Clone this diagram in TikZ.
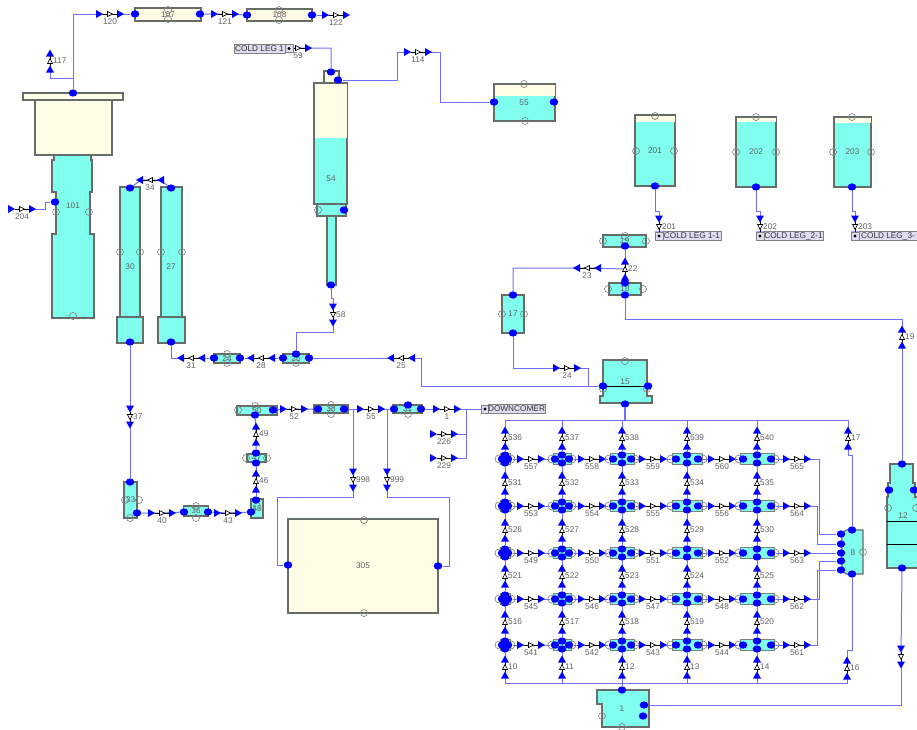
\documentclass[tikz,border=0pt]{standalone}
\usepackage{fontspec}
\setmainfont{Liberation Sans}
\usepackage{xcolor}
\usepackage{tikz}
\usetikzlibrary{shapes.geometric, positioning, backgrounds}

\definecolor{aqua}{HTML}{80FFEE}
\definecolor{cream}{HTML}{FFFDE6}
\definecolor{wall}{HTML}{666C66}
\definecolor{line}{HTML}{6E6EFF}
\definecolor{legfill}{HTML}{DEDEF0}

% valve: tips and bow tie, drawn at x, y, turned by an angle, half length
\newcommand{\valvebody}[4]{
  \begin{scope}[shift={(#1,#2)}, rotate=#3]
    \fill[blue] (-#4-3.5,-4) -- (-#4+3.5,0) -- (-#4-3.5,4) -- cycle;
    \fill[blue] (#4-3.5,-4) -- (#4+3.5,0) -- (#4-3.5,4) -- cycle;
    \draw[black, line width=0.7pt] (-#4+3,0) -- (#4-3,0);
    \draw[black, fill=white, line width=0.5pt] (-2.5,-2.5) -- (2.5,0) -- (-2.5,2.5) -- cycle;
  \end{scope}
}
\newcommand{\hvalve}[4]{
  \node[tap] (v#1) at (#2,#3) {};
  \valvebody{#2}{#3}{#4}{10.5}
  \node[tag, below=3pt of v#1] (t#1) {#1};
}
\newcommand{\vvalve}[4]{
  \node[tap] (v#1) at (#2,#3) {};
  \valvebody{#2}{#3}{#4}{8}
  \node[tag, right=2pt of v#1] (t#1) {#1};
}

\begin{document}
\begin{tikzpicture}[
  x=0.75pt, y=-0.75pt,
  tag/.style={font=\fontsize{6.2}{6.5}\selectfont, text=black!62, inner sep=0pt},
  tap/.style={inner sep=0pt, minimum size=0pt},
  port/.style={ellipse, fill=blue, inner sep=0pt, minimum width=6.5pt, minimum height=5.5pt},
  pipe/.style={draw=line, line width=0.75pt},
  ring/.style={draw=gray, line width=0.5pt},
  tank/.style={draw=wall, fill=aqua, line width=0.9pt},
  vol/.style 2 args={tank, tag, minimum width=#1*0.75pt, minimum height=#2*0.75pt},
  band/.style 2 args={fill=cream, inner sep=0pt, minimum width=#1*0.75pt, minimum height=#2*0.75pt},
  legbox/.style={draw=gray, fill=legfill, tag, text=black!80, minimum width=#1*0.75pt, minimum height=6.75pt},
  legdot/.style={draw=gray, fill=legfill, inner sep=0pt, minimum size=6pt,
    path picture={\fill[black] (path picture bounding box.center) circle (1.2pt);}}
]
\useasboundingbox (0,0) rectangle (917,729);

% valves, top and left
\hvalve{120}{110}{14}{0}
\hvalve{121}{225}{14}{0}
\hvalve{122}{336}{15}{0}
\hvalve{204}{22}{209}{0}
\vvalve{117}{50}{61}{90}
\hvalve{34}{150}{180}{180}
\hvalve{59}{298}{48}{0}
\hvalve{114}{418}{52}{0}
\vvalve{58}{333}{315}{270}
\hvalve{31}{191}{358}{180}
\hvalve{28}{261}{358}{180}
\hvalve{25}{401}{358}{180}
\vvalve{37}{130}{417}{270}
\hvalve{40}{162}{513}{0}
\hvalve{43}{228}{513}{0}
\vvalve{46}{256}{481}{90}
\vvalve{49}{256}{434}{90}
\hvalve{52}{294}{409}{0}
\hvalve{55}{371}{409}{0}
\hvalve{1}{447}{409}{0}
\hvalve{226}{444}{434}{0}
\hvalve{229}{444}{458}{0}
\vvalve{998}{353}{480}{270}
\vvalve{999}{387}{480}{270}

% valves, right
\vvalve{201}{659}{227}{270}
\vvalve{202}{760}{227}{270}
\vvalve{203}{855}{227}{270}
\vvalve{22}{625}{269}{90}
\hvalve{23}{587}{268}{180}
\hvalve{24}{567}{368}{0}
\vvalve{19}{902}{337}{90}
\vvalve{17}{848}{438}{90}
\vvalve{16}{847}{668}{90}
\vvalve{}{901}{657}{270}

% valves of the grid
\foreach \yy/\aa/\bb/\cc/\dd/\ee in {459/557/558/559/560/565, 506/553/554/555/556/564,
    553/549/550/551/552/563, 599/545/546/547/548/562, 645/541/542/543/544/561}{
  \hvalve{\aa}{531}{\yy}{0}
  \hvalve{\bb}{592}{\yy}{0}
  \hvalve{\cc}{653}{\yy}{0}
  \hvalve{\dd}{722}{\yy}{0}
  \hvalve{\ee}{797}{\yy}{0}
}
\foreach \xx/\aa/\bb/\cc/\dd/\ee/\ff in {505/536/531/526/521/516/10, 562/537/532/527/522/517/11,
    622/538/533/528/523/518/12, 687/539/534/529/524/519/13, 757/540/535/530/525/520/14}{
  \vvalve{\aa}{\xx}{438}{90}
  \vvalve{\bb}{\xx}{483}{90}
  \vvalve{\cc}{\xx}{530}{90}
  \vvalve{\dd}{\xx}{576}{90}
  \vvalve{\ee}{\xx}{622}{90}
  \vvalve{\ff}{\xx}{667}{90}
}

% left tanks
\node[vol={100}{7}, fill=cream] (vol101a) at (73,96.5) {};
\node[vol={77}{55}, fill=cream] (vol101b) at (73.5,127.5) {};
\draw[tank] (54,155) -- (54,160) -- (52,160) -- (52,192) -- (56,192) -- (56,234) -- (52,234) -- (52,318)
  -- (94,318) -- (94,234) -- (90,234) -- (90,192) -- (92,192) -- (92,160) -- (91,160) -- (91,155) -- cycle;
\node[tag] (lab101) at (73,206) {101};
\node[vol={66}{13}, fill=cream] (vol107) at (168,14.5) {107};
\node[vol={65}{12}, fill=cream] (vol108) at (279.5,15) {108};
\node[vol={20}{130}] (vol30) at (130,252) {};
\node[tag] (lab30) at (130,267) {30};
\node[vol={26}{26}] (vol30b) at (130,330) {};
\node[vol={21}{130}] (vol27) at (171.5,252) {};
\node[tag] (lab27) at (171,267) {27};
\node[vol={27}{26}] (vol27b) at (171.5,330) {};

% tank 54 and 55
\node[vol={15}{12}, fill=cream] (vol54a) at (331.5,77) {};
\node[vol={33}{121}] (vol54c) at (330.5,143.5) {};
\node[band={32}{54.5}] (vol54b) at (330.5,110.75) {};
\node[tag] (lab54) at (331,179) {54};
\node[vol={29}{12}] (vol54d) at (331.5,210) {};
\node[vol={9}{69}] (vol54e) at (331.5,250.5) {};
\node[vol={61}{37}] (vol55) at (524.5,102.5) {};
\node[band={60}{11.5}] (vol55a) at (524.5,90.25) {};
\node[tag] (lab55) at (524,103) {55};

% lower left tanks
\node[vol={26}{9}] (vol24) at (227,358.5) {24};
\node[vol={26}{9}] (vol26) at (296,358.5) {25};
\node[vol={13}{36}] (vol33) at (130.5,500) {33};
\node[vol={25}{10}] (vol36) at (196,511) {36};
\node[vol={12}{19}] (vol45) at (257,508.5) {45};
\node[vol={19}{8}] (vol47) at (256.5,458) {47};
\node[vol={40}{9}] (vol50) at (257,410.5) {50};
\node[vol={34}{8}] (vol38) at (331,409) {38};
\node[vol={29}{8}] (vol31) at (407.5,409) {31};
\node[vol={150}{94}, fill=cream] (vol305) at (363,566) {305};

% right tanks
\node[vol={40}{71}] (vol201) at (655,150.5) {201};
\node[band={39}{6.5}] (vol201a) at (655,118.75) {};
\node[vol={40}{70}] (vol202) at (756,152) {202};
\node[band={39}{4.5}] (vol202a) at (756,119.75) {};
\node[vol={37}{70}] (vol203) at (852.5,152) {203};
\node[band={36}{5.5}] (vol203a) at (852.5,120.25) {};
\node[vol={43}{12}] (vol19) at (624.5,241) {19};
\node[vol={32}{12}] (vol18) at (625,289) {18};
\node[vol={22}{38}] (vol17) at (513,314) {17};
\draw[tank] (603,360) -- (647,360) -- (647,396) -- (652,396) -- (652,403) -- (600,403) -- (600,396) -- (603,396) -- cycle;
\draw[black, line width=0.7pt] (603,386) -- (647,386);
\node[tag] (lab15) at (625,382) {15};
\draw[tank] (597,690) -- (649,690) -- (649,727) -- (602,727) -- (602,704) -- (597,704) -- cycle;
\node[tag] (lab1) at (622,709) {1};
\draw[tank] (846,530) -- (863,530) -- (863,574) -- (846,574) -- (842,570) -- (842,534) -- cycle;
\node[tag] (lab8) at (853,553) {8};
\draw[tank] (890,464) -- (913,464) -- (913,483) -- (915,483) -- (915,497) -- (919,497) -- (919,568)
  -- (887,568) -- (887,497) -- (888,497) -- (888,483) -- (890,483) -- cycle;
\draw[black, line width=0.7pt] (887,521) -- (919,521);
\draw[black, line width=0.7pt] (887,544) -- (919,544);
\node[tag] (lab12) at (903,516) {12};

% boundary boxes
\node[legbox=51] (cl1) at (259.5,48.5) {COLD LEG 1};
\node[legdot] (s59) at (289,48.5) {};
\node[legdot] (s201) at (659,236) {};
\node[legbox=58] (cl11) at (692,236) {COLD LEG 1-1};
\node[legdot] (s202) at (760,236) {};
\node[legbox=59] (cl21) at (793.5,236) {COLD LEG\_2-1};
\node[legdot] (s203) at (855,236) {};
\node[legbox=58] (cl31) at (888,236) {COLD LEG\_3-};
\node[legdot] (sdc) at (485,409) {};
\node[legbox=53] (cldc) at (516.5,409) {DOWNCOMER};

% rings
\foreach \xx/\yy in {56/212, 89/212, 73/316, 168/10, 168/19, 279/10, 279/20, 120/252, 140/252, 161/252, 182/252,
    318/210, 524/84, 525/121, 655/116, 636/151, 674/151, 756/117, 736/152, 776/152, 852/117, 833/152, 871/152,
    603/241, 646/241, 625/236, 608/289, 643/289, 502/314, 524/314, 625/361, 603/389, 647/389, 602/716, 622/727,
    863/552, 888/508, 916/508, 227/354, 227/363, 296/363, 125/500, 139/500, 130/518, 196/506, 196/518, 257/506,
    246/458, 267/458, 238/410, 255/406, 331/405, 331/414, 408/414, 364/520, 364/613}
  \draw[ring] (\xx,\yy) circle[radius=3.5];

% grid tanks
\foreach \c/\cx/\hw/\dx in {a/505/5/3, b/562/9/7, c/622/12/9, d/687/15/11, e/757/17/14}{
  \foreach \r/\cy in {1/459, 2/506, 3/553, 4/599, 5/645}{
    \node[vol={2*\hw}{11}, draw=wall!85, line width=0.7pt] (g\c\r) at (\cx,\cy) {};
    \draw[ring] ({\cx-\hw-1},\cy) circle[radius=4];
    \draw[ring] ({\cx+\hw+1},\cy) circle[radius=4];
    \node[port] (n\c\r) at (\cx,\cy-4) {};
    \node[port] (s\c\r) at (\cx,\cy+4) {};
    \node[port] (w\c\r) at (\cx-\dx,\cy) {};
    \node[port] (e\c\r) at (\cx+\dx,\cy) {};
  }
}

% ports
\foreach \nm/\xx/\yy in {p101t/73/93, p101w/55/202, p107w/135/14, p107e/200/14, p108w/247/15, p108e/312/15,
    p30t/130/188, p30b/130/342, p27t/171/188, p27b/171/342, p54t/331/72, p54e/338/80, p54r/344/210, p54b/331/285,
    p55w/494/102, p55e/554/102, p201b/655/186, p202b/756/187, p203b/852/187, p19s/625/246, p18n/625/283, p18s/625/295,
    p17t/513/295, p17b/513/333, p15w/603/386, p15e/648/386, p15b/625/404, p24w/214/358, p24e/240/358, p26w/283/358,
    p26e/309/358, p26t/296/354, p33t/130/482, p33e/137/513, p36w/184/512, p36e/208/512, p45w/251/512, p45t/256/500,
    p47s/256/463, p47n/256/453, p50s/255/415, p50e/273/410, p38w/318/409, p38e/344/409, p31w/394/409, p31e/421/409,
    p31t/408/405, p305w/288/565, p305e/438/566, p8t/852/530, p8b/852/574, p8a/841/534, p8c/841/544, p8d/841/553,
    p8e/841/561, p8f/841/570, p1t/622/690, p1e/644/705, p1r/643/716, p12t/902/464, p12w/889/490, p12e/914/490, p12b/902/568}
  \node[port] (\nm) at (\xx,\yy) {};

% joints on the lines
\coordinate (j117) at (73,78);
\coordinate (jdc) at (466,409);
\coordinate (j998) at (353,409);
\coordinate (j999) at (387,409);
\coordinate (j15) at (625,420);
\coordinate (j24) at (588,386);
\coordinate (hdrL) at (505,420);
\coordinate (hdrR) at (848,420);
\coordinate (botL) at (505,683);
\coordinate (botR) at (847,683);
\coordinate (j1) at (622,683);

\begin{scope}[on background layer]
\draw[pipe] (p101t) |- (v120);
\draw[pipe] (v117) |- (j117);
\draw[pipe] (v120) -- (p107w);
\draw[pipe] (p107e) -- (v121) -- (p108w);
\draw[pipe] (p108e) -- (v122);
\draw[pipe] (v204) -- ++(23,0) |- (p101w);
\draw[pipe] (p30t) -- ++(11,-8) -- (v34) -- ++(10,0) -- (p27t);
\draw[pipe] (s59) -- (v59) -| (p54t);
\draw[pipe] (p54e) -- ++(59,0) |- (v114);
\draw[pipe] (v114) -- ++(22,0) |- (p55w);
\draw[pipe] (p54b) -- ++(0,13) -| (v58);
\draw[pipe] (v58) -- ++(0,17) -| (p26t);
\draw[pipe] (p26e) -- (v25);
\draw[pipe] (v25) -- ++(20,0) |- (p15w);
\draw[pipe] (p26w) -- (v28) -- (p24e);
\draw[pipe] (p24w) -- (v31) -| (p27b);
\draw[pipe] (p30b) -- (v37) -- (p33t);
\draw[pipe] (p33e) -- (v40) -- (p36w);
\draw[pipe] (p36e) -- (v43) -- (p45w);
\draw[pipe] (p45t) -- (v46) -- (p47s);
\draw[pipe] (p47n) -- (v49) -- (p50s);
\draw[pipe] (p50e) -- (v52) -- (p38w);
\draw[pipe] (p38e) -- (v55) -- (p31w);
\draw[pipe] (p31e) -- (v1) -- (sdc);
\draw[pipe] (v226) -| (jdc);
\draw[pipe] (v229) -| (jdc);
\draw[pipe] (j998) -- (v998);
\draw[pipe] (j999) -- (v999);
\draw[pipe] (v998) -- ++(0,17) -- ++(-76,0) |- (p305w);
\draw[pipe] (v999) -- ++(0,17) -- ++(62,0) |- (p305e);
\draw[pipe] (p201b) -- ++(0,25) -| (v201);
\draw[pipe] (p202b) -- ++(0,24) -| (v202);
\draw[pipe] (p203b) -- ++(0,24) -| (v203);
\draw[pipe] (v201) -- (s201);
\draw[pipe] (v202) -- (s202);
\draw[pipe] (v203) -- (s203);
\draw[pipe] (p18n) -- (v22) -- (p19s);
\draw[pipe] (v22) -- (v23) -| (p17t);
\draw[pipe] (p17b) |- (v24);
\draw[pipe] (v24) -| (j24);
\draw[pipe] (v19) -- ++(0,-18) -| (p18s);
\draw[pipe] (p12t) -- (v19);
\draw[pipe] (p12b) -- (v);
\draw[pipe] (v) |- (p1e);
\draw[pipe, line width=1.6pt] (p15b) -- (j15);
\draw[pipe] (hdrL) -- (hdrR) -- (v17);
\draw[pipe] (botL) -- (botR) -- (v16);
\draw[pipe] (p1t) -- (j1);
\draw[pipe] (v17) -- ++(0,17) -| (p8t);
\draw[pipe] (v16) -- ++(0,-18) -| (p8b);
\draw[pipe] (v565) -- ++(22,0) |- (p8a);
\draw[pipe] (v564) -- ++(20,0) |- (p8c);
\draw[pipe] (v563) -- (p8d);
\draw[pipe] (v562) -- ++(22,0) |- (p8e);
\draw[pipe] (v561) -- ++(20,0) |- (p8f);
\foreach \r/\aa/\bb/\cc/\dd/\ee in {1/557/558/559/560/565, 2/553/554/555/556/564,
    3/549/550/551/552/563, 4/545/546/547/548/562, 5/541/542/543/544/561}{
  \draw[pipe] (ea\r) -- (v\aa) -- (wb\r);
  \draw[pipe] (eb\r) -- (v\bb) -- (wc\r);
  \draw[pipe] (ec\r) -- (v\cc) -- (wd\r);
  \draw[pipe] (ed\r) -- (v\dd) -- (we\r);
  \draw[pipe] (ee\r) -- (v\ee);
}
\foreach \c/\aa/\bb/\cc/\dd/\ee/\ff in {a/536/531/526/521/516/10, b/537/532/527/522/517/11,
    c/538/533/528/523/518/12, d/539/534/529/524/519/13, e/540/535/530/525/520/14}{
  \draw[pipe] (v\aa) |- (hdrL);
  \draw[pipe] (v\aa) -- (n\c1);
  \draw[pipe] (s\c1) -- (v\bb) -- (n\c2);
  \draw[pipe] (s\c2) -- (v\cc) -- (n\c3);
  \draw[pipe] (s\c3) -- (v\dd) -- (n\c4);
  \draw[pipe] (s\c4) -- (v\ee) -- (n\c5);
  \draw[pipe] (s\c5) -- (v\ff) |- (botL);
}
\end{scope}
\end{tikzpicture}
\end{document}
